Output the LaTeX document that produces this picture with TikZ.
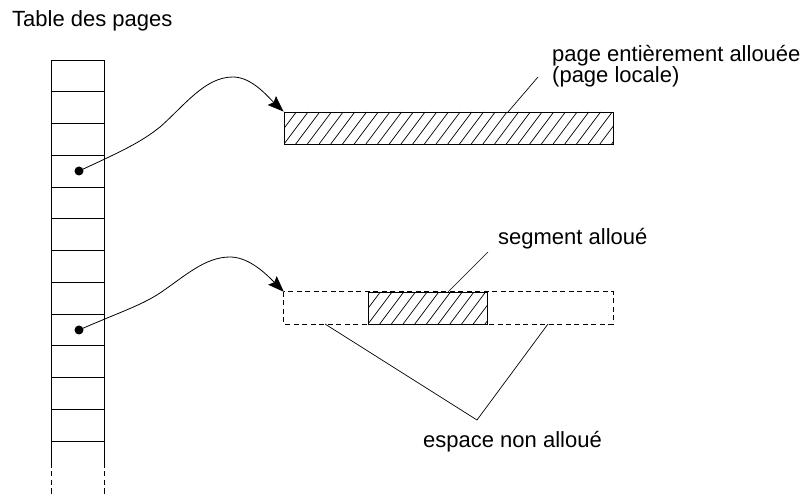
\documentclass[tikz,border=0pt]{standalone}
\usepackage{fontspec}
\setmainfont{Liberation Sans}
\usetikzlibrary{arrows.meta}
\begin{document}
\begin{tikzpicture}[x=1pt,y=-1pt,
  every node/.style={font=\fontsize{22}{26}\selectfont},
  lbl/.style={anchor=base west, inner sep=0pt},
  edge/.style={line width=0.8pt},
  dashedge/.style={line width=0.8pt, dash pattern=on 5pt off 3.5pt},
  pagebox/.style={rectangle, inner sep=0pt, minimum height=32pt},
  hatch/.style={path picture={
      \foreach \k in {-4,...,30} {
        \draw[line width=0.7pt]
          ([xshift=\k*11.7pt]path picture bounding box.south west) -- ++(24pt,32pt);
      }}},
  dot/.style={circle, fill=black, inner sep=0pt, minimum size=9pt},
  ptr/.style={line width=0.8pt, -{Stealth[length=16pt, width=12pt, inset=2.5pt]}},
  leader/.style={line width=0.7pt}
]
\useasboundingbox (0,0) rectangle (804,494);

% title
\node[lbl] (title) at (12,27) {Table des pages};

% page table
\foreach \k in {0,...,12} {
  \draw[edge] (51,{60+\k*31.75}) -- (104,{60+\k*31.75});
}
\draw[edge] (51,60) -- (51,463);
\draw[edge] (104,60) -- (104,463);
\draw[dashedge] (51,463) -- (51,494);
\draw[dashedge] (104,463) -- (104,494);

% pages
\node[pagebox, hatch, draw, line width=0.9pt, minimum width=329pt] (p1) at (448.5,128) {};
\node[pagebox, minimum width=329pt] (p2) at (448.5,308) {};
\node[pagebox, hatch, draw, line width=0.9pt, minimum width=119pt] (seg) at (427.5,308) {};
\draw[dashedge] (p2.north west) rectangle (p2.south east);

% pointers
\node[dot] (d1) at (79,171) {};
\node[dot] (d2) at (79,330) {};
\draw[ptr] (d1.center) .. controls (120,152) and (140,143) .. (160,127)
  .. controls (185,105) and (205,77) .. (233,77)
  .. controls (252,77) and (268,97) .. (p1.north west);
\draw[ptr] (d2.center) .. controls (120,312) and (140,306) .. (160,293)
  .. controls (185,276) and (205,257) .. (230,257)
  .. controls (250,257) and (268,276) .. (p2.north west);

% labels
\node[lbl] (pe1) at (552,62) {page entièrement allouée};
\node[lbl] (pe2) at (552,83) {(page locale)};
\node[lbl] (sa) at (498,245) {segment alloué};
\node[lbl] (ena) at (423,448) {espace non alloué};

\coordinate (l1a) at (508,112);
\coordinate (l1b) at (538,77);
\draw[leader] (l1a) -- (l1b);
\coordinate (l2a) at (448,292);
\coordinate (l2b) at (488,252);
\draw[leader] (l2a) -- (l2b);
\coordinate (l3a) at (325,324);
\coordinate (l3b) at (548,324);
\coordinate (l3v) at (477,420);
\draw[leader] (l3a) -- (l3v) -- (l3b);
\end{tikzpicture}
\end{document}
